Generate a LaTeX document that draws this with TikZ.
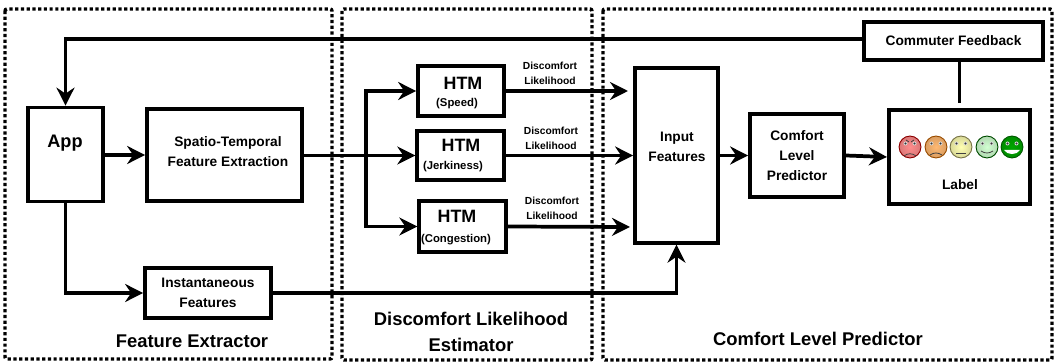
\documentclass[tikz,border=0pt]{standalone}
\usepackage{fontspec}
\setmainfont{Liberation Sans}
\usetikzlibrary{arrows.meta}
\tikzset{
	block/.style={draw,line width=2.8pt,inner sep=0pt,align=center,font=\fontsize{10.3}{15}\selectfont\bfseries},
	blocktext/.style={inner sep=0pt,align=center,font=\fontsize{10.3}{15}\selectfont\bfseries},
	region/.style={line width=2.6pt,dash pattern=on 2.4pt off 1.9pt,rounded corners=1.5pt},
	flow/.style={line width=2.8pt,-{Stealth[length=13.5pt,width=13.5pt,inset=4.5pt]}},
	plain/.style={line width=2.8pt},
	tag/.style={inner sep=0pt,align=center,font=\fontsize{7.7}{11.3}\selectfont\bfseries},
	htmname/.style={inner sep=0pt,font=\fontsize{13.4}{16}\selectfont\bfseries},
	htmsub/.style={inner sep=0pt,font=\fontsize{8.5}{10}\selectfont\bfseries},
	title/.style={inner sep=0pt,align=center,font=\fontsize{13.8}{19.7}\selectfont\bfseries},
	mouth/.style={line width=.6pt,draw=black!75}
}
\begin{document}
\begin{tikzpicture}[x=.75pt,y=-.75pt]
	\useasboundingbox (0,0) rectangle (1061,363);
	% dotted regions
	\draw[region] (5,9) rectangle (332,359);
	\draw[region] (342,9) rectangle (592,360);
	\draw[region] (603,9) rectangle (1052,360);
	% blocks
	\node[block,minimum width=56pt,minimum height=70.5pt] (app) at (65.5,154.5) {};
	\node[block,minimum width=116.25pt,minimum height=69pt] (spatio) at (224.5,155) {};
	\node[block,minimum width=94.5pt,minimum height=37.5pt] (inst) at (208,293) {Instantaneous\\Features};
	\node[block,minimum width=64.5pt,minimum height=37.5pt] (speed) at (461,91) {};
	\node[block,minimum width=65pt,minimum height=37pt] (jerk) at (460.5,155.5) {};
	\node[block,minimum width=65pt,minimum height=38pt] (cong) at (462.5,226.5) {};
	\node[block,minimum width=62.25pt,minimum height=131pt] (input) at (676.5,155.5) {};
	\node[block,minimum width=70.5pt,minimum height=62pt] (predictor) at (797,155.5) {Comfort\\Level\\Predictor};
	\node[block,minimum width=106pt,minimum height=70.5pt] (label) at (959.5,157) {};
	\node[block,minimum width=134pt,minimum height=28.5pt] (feedback) at (953.5,41) {Commuter Feedback};
	% text sitting off centre in its block
	\node[blocktext,font=\fontsize{13.6}{16}\selectfont\bfseries] (apptext) at (65,143) {App};
	\node[blocktext] (spatiotext) at (228,152) {Spatio-Temporal\\Feature Extraction};
	\node[blocktext] (inputtext) at (677,147) {Input\\Features};
	\node[blocktext] (labeltext) at (960,185) {Label};
	% text in the HTM blocks
	\node[htmname] (speedname) at (463,83) {HTM};
	\node[htmsub] (speedsub) at (457,104) {(Speed)};
	\node[htmname] (jerkname) at (461,145) {HTM};
	\node[htmsub] (jerksub) at (453,167) {(Jerkiness)};
	\node[htmname] (congname) at (457,216) {HTM};
	\node[htmsub] (congsub) at (456,240) {(Congestion)};
	% likelihood tags
	\node[tag] (speedtag) at (550,73.5) {Discomfort\\Likelihood};
	\node[tag] (jerktag) at (551,138) {Discomfort\\Likelihood};
	\node[tag] (congtag) at (552,208) {Discomfort\\Likelihood};
	% smileys
	\foreach \cx/\colin/\colout in {910/red!45!white/red!55!black,936/orange!55!white/orange!60!black,961/yellow!30!white/yellow!40!black,987/green!18!white/green!30!black,1012/green!65!black/green!35!black}{
		\shade[inner color=\colin,outer color=\colin!85!black,draw=\colout,line width=.7pt] (\cx,147) circle (8.2pt);
		\fill[white!85!black] (\cx-4.5,143.5) circle (1.5pt);
		\fill[white!85!black] (\cx+4.5,143.5) circle (1.5pt);
		\fill[black!80] (\cx-4.5,143.5) circle (.8pt);
		\fill[black!80] (\cx+4.5,143.5) circle (.8pt);
	}
	\draw[mouth] (904,156) to[bend left=40] (916,156);
	\draw[mouth] (906,140) -- (909,142);
	\draw[mouth] (914,140) -- (911,142);
	\draw[mouth] (930,155) to[bend left=35] (942,155);
	\draw[mouth] (956,153) -- (966,153);
	\draw[mouth] (981,151) to[bend right=35] (993,151);
	\fill[white] (1004,150) to[bend right=60] (1020,150) -- cycle;
	% regions titles
	\node[title] (titlea) at (192,341) {Feature Extractor};
	\node[title] (titleb) at (471,332) {Discomfort Likelihood\\Estimator};
	\node[title] (titlec) at (818,339) {Comfort Level Predictor};
	% connectors
	\coordinate (fork) at (366,155.5);
	\coordinate (speedend) at (628,91);
	\coordinate (congend) at (630,227);
	\coordinate (feedbackout) at (feedback.west |- 0,39);
	\draw[flow] (feedbackout) -| (app.north);
	\draw[flow] (app.east |- spatio) -- (spatio);
	\draw[flow] (spatio.east |- fork) -- (jerk.west |- fork);
	\draw[flow] (fork) |- (speed.west);
	\draw[flow] (fork) |- (cong.west);
	\draw[flow] (speed.east) -- (speedend);
	\draw[flow] (jerk.east) -- (input.west |- jerk);
	\draw[flow] (cong.east) -- (congend);
	\draw[flow] (app.south) |- (inst.west);
	\draw[flow] (inst.east) -| (input.south);
	\draw[flow] (input.east |- predictor) -- (predictor);
	\draw[flow] (predictor.east) -- (label.west);
	\draw[plain,shorten >=4pt] (feedback.south -| label) -- (label.north);
\end{tikzpicture}
\end{document}
